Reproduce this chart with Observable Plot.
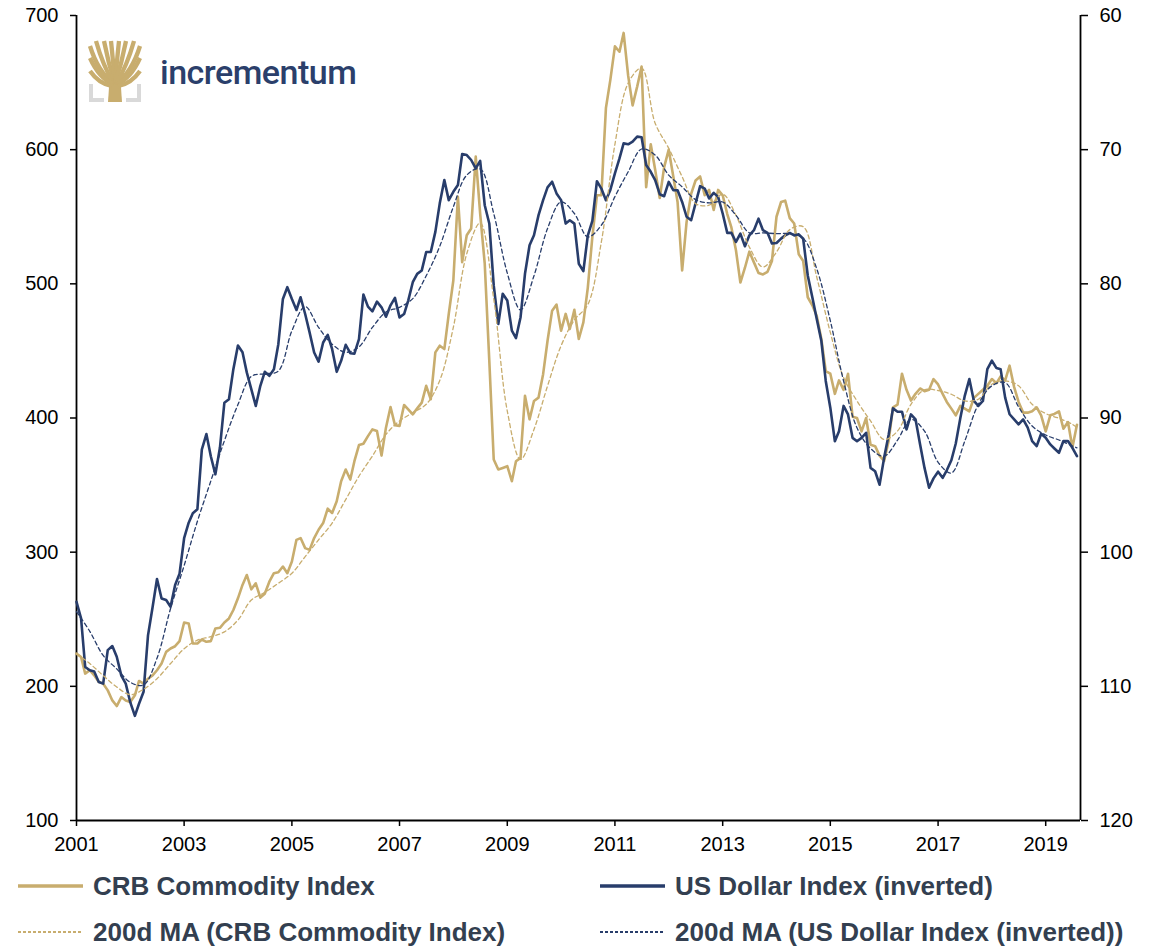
<!DOCTYPE html>
<html><head><meta charset="utf-8">
<script src="https://cdn.jsdelivr.net/npm/d3@7"></script>
<script src="https://cdn.jsdelivr.net/npm/@observablehq/plot@0.6"></script>
<style>
body{margin:0;background:#fff;width:1161px;height:948px;overflow:hidden;position:relative;font-family:"Liberation Sans",Arial,sans-serif;}
#chart{position:absolute;left:0;top:0;}
#logo{position:absolute;left:0;top:0;}
.lg{position:absolute;height:40px;display:flex;align-items:center;font-weight:bold;font-size:26px;color:#333f50;white-space:nowrap;}
.lg svg{margin-right:10px;}
</style></head>
<body>
<div id="chart"></div>
<svg id="logo" width="380" height="110">
  <g transform="translate(89,40)">
    <path d="M2,44 V60 H15 M50,44 V60 H37" fill="none" stroke="#d9d9d9" stroke-width="4"/>
    <path d="M19,62 L33,62 L31.5,40 L20.5,40 Z" fill="#c8ad6e"/>
    <g fill="none" stroke="#c8ad6e" stroke-width="4.3">
      <path d="M25,44 Q9,32 1,6"/>
      <path d="M25,44 Q14,26 7,1"/>
      <path d="M26,44 Q19,22 15,1"/>
      <path d="M26,44 Q24,20 22,1"/>
      <path d="M26,44 Q28,20 30,1"/>
      <path d="M26,44 Q33,22 37,1"/>
      <path d="M27,44 Q38,26 45,1"/>
      <path d="M27,44 Q43,32 51,6"/>
      <path d="M24,44 Q10,38 1,18"/>
      <path d="M28,44 Q42,38 51,18"/>
      <path d="M23,46 Q10,44 1,31"/>
      <path d="M29,46 Q42,44 51,31"/>
    </g>
  </g>
  <text x="160" y="84" font-family="Roboto, 'Liberation Sans', sans-serif" font-weight="500" font-size="34" fill="#2b3f6b" letter-spacing="-0.5">incrementum</text>
</svg>
<div id="legend"></div>
<script>
// ---- data (monthly, starting Jan 2001) ----
const startYear = 2001;
const crb = [
224.4,221.9,209.5,212.0,208.2,203.3,202.0,197.0,189.5,185.3,
192.0,189.5,188.3,193.3,204.0,202.0,205.7,208.2,212.0,217.0,
225.7,228.2,229.9,233.7,247.6,246.9,231.9,231.9,234.9,233.2,
233.7,243.1,243.6,247.6,250.6,256.9,265.6,275.6,283.0,272.3,
276.8,266.1,269.0,278.0,284.3,285.0,289.3,284.3,293.0,309.2,
310.5,303.0,301.7,310.5,316.7,321.7,332.4,329.2,337.9,352.9,
361.6,354.1,367.8,379.8,380.8,386.5,391.5,390.3,372.0,392.8,
408.2,394.7,394.0,409.7,406.5,402.7,407.2,411.5,424.0,414.0,
448.9,453.9,451.4,477.6,502.5,564.8,516.2,536.2,541.2,594.8,
552.4,515.0,442.6,369.1,361.6,362.8,364.1,352.9,367.8,370.3,
416.5,399.0,412.7,415.2,432.7,457.6,480.0,484.5,465.1,477.6,
466.3,480.6,458.9,471.3,497,535,566,566,631,652,
677,673,687,655,633,647,662,572,604,585,
564,587,600,580,561,510,546,567,577,580,
566,570,555,570,566,552,542,525,501,512,
524,516,508,507,509,517,550,561,562,549,
545,522,517,490,484,476,459,435,433,418,
428,421,433,401,400,390,400,380,379,372,
368,383,408,410,433,421,413,418,422,420,
421,429,425,418,412,407,402,409,407,405,
415,418,421,424,429,426,431,428,439,423,
412,404,404,405,408,402,390,402,403,405,
392,397,378,395];
const usd = [
103.7,104.94,108.56,108.8,108.9,109.68,109.8,107.3,107.0,107.8,
109.2,109.8,111.2,112.2,111.3,110.4,106.2,104.1,102.0,103.45,
103.57,104.07,102.45,101.6,98.96,97.8,97.1,96.8,92.35,91.2,
92.85,94.2,92.2,88.86,88.6,86.36,84.6,85.1,86.6,87.86,
89.1,87.6,86.56,86.86,86.36,84.5,81.13,80.25,81.13,81.95,
81.0,82.25,83.62,85.12,85.8,84.37,83.8,84.87,86.56,85.74,
84.54,85.17,85.2,84.12,80.8,81.7,82.05,81.33,81.75,82.45,
81.6,81.05,82.5,82.25,81.25,79.88,79.26,79.0,77.63,77.63,
76.13,74.0,72.27,73.76,73.14,72.64,70.32,70.4,70.77,71.4,
70.84,74.14,75.5,80.12,82.99,80.74,81.24,83.49,84.04,82.49,
79.25,77.13,76.38,74.88,73.76,72.81,72.39,73.26,73.76,75.51,
75.26,75.51,78.5,79.05,76.4,75.3,72.35,72.9,73.77,73.0,
71.77,70.65,69.53,69.6,69.4,69.03,69.08,71.15,71.65,72.27,
73.32,73.47,72.4,73.02,73.02,73.9,75.0,75.26,74.0,72.72,
72.9,73.64,73.22,73.52,74.76,76.2,76.2,76.88,76.26,77.2,
76.38,76.0,75.14,76.0,76.2,77.0,76.96,76.63,76.39,76.21,
76.39,76.31,76.64,79.38,81.0,82.62,84.24,87.24,89.23,91.73,
90.98,89.1,89.73,91.48,91.73,91.48,91.1,93.72,93.97,94.97,
92.97,91.23,89.28,89.53,89.53,90.85,89.73,90.1,91.97,93.72,
95.2,94.5,94.0,94.46,93.9,93.15,91.9,90.0,88.35,87.1,
88.73,89.1,88.73,86.36,85.73,86.28,86.36,88.48,89.72,90.1,
90.47,90.1,90.72,91.72,92.09,91.17,91.47,91.97,92.27,92.59,
91.72,91.72,92.22,92.84];
// 200d moving averages, read every third month (month index from Jan 2001)
const maMonths = [0,3,6,9,12,15,18,21,24,27,30,33,36,39,42,45,48,51,54,57,60,63,66,69,72,75,78,81,84,87,
 90,93,96,99,102,105,108,111,114,117,120,123,126,129,132,135,138,141,144,147,150,153,156,159,162,165,168,171,174,177,
 180,183,186,189,192,195,198,201,204,207,210,213,216,219,222,223];
const crbMA = [
224.4,217,208,199.5,193.8,197.8,205.7,217,228,234.4,
237,240.6,249.4,264.3,270,276.8,284.3,296.7,309.2,321.7,
339.2,356.6,371.6,387.8,397.8,404,410.2,428,467.6,522.4,
545.4,488.8,405.2,369.1,391.5,423.9,453.9,473.1,484.5,531.2,
604,649.6,660.8,619.7,601,579.8,559.8,558.6,566.8,551.1,
527.4,512.5,523.7,540.4,542.6,505,463.8,430.2,412.7,397.8,
384.0,390.3,410.2,421,420.5,417.7,412.7,414,425.2,427.7,
424,410.2,403.3,399.8,395.3,392.8];
const usdMA = [
104.44,105.9,107.7,108.7,109.7,109.9,107.9,104.2,101.0,97.7,
94.7,91.7,89.0,86.9,86.7,86.5,83.5,81.7,83.25,84.5,
85.1,84.7,83.25,82.1,81.75,81.1,79.4,77.2,74.26,71.9,
71.44,74.76,79.2,81.94,79.4,75.88,73.89,74.76,76.5,75.63,
73.5,71.65,69.95,70.4,71.9,72.77,73.72,73.97,73.9,74.89,
76.2,76.2,76.26,76.26,76.6,78.88,82.75,87.24,90.73,92.27,
92.85,91.65,90.1,90.98,93.3,94.1,91.72,88.98,87.6,87.36,
89.17,90.6,91.27,91.64,92.09,92.22];
const leftTicks = [100,200,300,400,500,600,700];
const rightTicks = [60,70,80,90,100,110,120];
const yearTicks = [2001,2003,2005,2007,2009,2011,2013,2015,2017,2019];
const seriesNames = ["CRB Commodity Index","US Dollar Index (inverted)","200d MA (CRB Commodity Index)","200d MA (US Dollar Index (inverted))"];

// ---- style ----
const GOLD = "#c8ad6e", NAVY = "#283d6b";
// inverted dollar axis mapped onto the left scale: 60 -> 700, 120 -> 100
const toLeft = u => 1300 - 10 * u;
const fromLeft = v => (1300 - v) / 10;
const monthDate = i => d3.utcMonth.offset(new Date(Date.UTC(startYear, 0, 1)), i);
const xStart = new Date(Date.UTC(startYear, 0, 1));
const xEnd = new Date(Date.UTC(2019, 7, 25));

const rows = crb.map((v, i) => ({date: monthDate(i), crb: v, usd: toLeft(usd[i])}));
const maRows = maMonths.map((m, j) => ({date: monthDate(m), crb: crbMA[j], usd: toLeft(usdMA[j])}));

const chart = Plot.plot({
  width: 1161, height: 860,
  marginLeft: 76, marginRight: 81, marginTop: 15, marginBottom: 40,
  style: {fontFamily: "'Liberation Sans', Arial, sans-serif", fontSize: "20px", color: "#000", background: "transparent", overflow: "visible"},
  x: {type: "utc", domain: [xStart, xEnd]},
  y: {domain: [100, 700]},
  marks: [
    Plot.axisY(leftTicks, {anchor: "left", tickSize: 6, tickPadding: 12, tickFormat: d => String(d), fontSize: 20, stroke: "#000", strokeWidth: 1.5, label: null}),
    Plot.axisY(rightTicks.map(toLeft), {anchor: "right", tickSize: 7, tickPadding: 12, tickFormat: v => String(Math.round(fromLeft(v))), fontSize: 20, strokeWidth: 1.5, label: null}),
    Plot.axisX(yearTicks.map(y => new Date(Date.UTC(y, 0, 1))), {anchor: "bottom", tickSize: 6, tickPadding: 10, tickFormat: d3.utcFormat("%Y"), fontSize: 20, strokeWidth: 1.5, label: null}),
    Plot.ruleX([xStart], {stroke: "#000", strokeWidth: 1.8}),
    Plot.ruleX([xEnd], {stroke: "#000", strokeWidth: 1.8}),
    Plot.ruleY([100], {stroke: "#000", strokeWidth: 1.8}),
    Plot.line(rows, {x: "date", y: "crb", stroke: GOLD, strokeWidth: 2.6, strokeLinejoin: "round"}),
    Plot.line(rows, {x: "date", y: "usd", stroke: NAVY, strokeWidth: 2.6, strokeLinejoin: "round"}),
    Plot.line(maRows, {x: "date", y: "crb", stroke: GOLD, strokeWidth: 1.3, strokeDasharray: "4,3", curve: "catmull-rom"}),
    Plot.line(maRows, {x: "date", y: "usd", stroke: NAVY, strokeWidth: 1.3, strokeDasharray: "4,3", curve: "catmull-rom"})
  ]
});
document.getElementById("chart").appendChild(chart);

// ---- legend ----
const legendItems = [
  {name: seriesNames[0], color: GOLD, dash: null, w: 3.5, left: 18, top: 866},
  {name: seriesNames[1], color: NAVY, dash: null, w: 3.5, left: 600, top: 866},
  {name: seriesNames[2], color: GOLD, dash: "3,2", w: 2, left: 18, top: 912},
  {name: seriesNames[3], color: NAVY, dash: "3,2", w: 2, left: 600, top: 912}
];
const lg = document.getElementById("legend");
for (const it of legendItems) {
  const d = document.createElement("div");
  d.className = "lg";
  d.style.left = it.left + "px";
  d.style.top = it.top + "px";
  d.innerHTML = `<svg width="65" height="10"><line x1="0" x2="65" y1="5" y2="5" stroke="${it.color}" stroke-width="${it.w}" ${it.dash ? `stroke-dasharray="${it.dash}"` : ""}/></svg><span>${it.name}</span>`;
  lg.appendChild(d);
}
</script>
</body></html>
